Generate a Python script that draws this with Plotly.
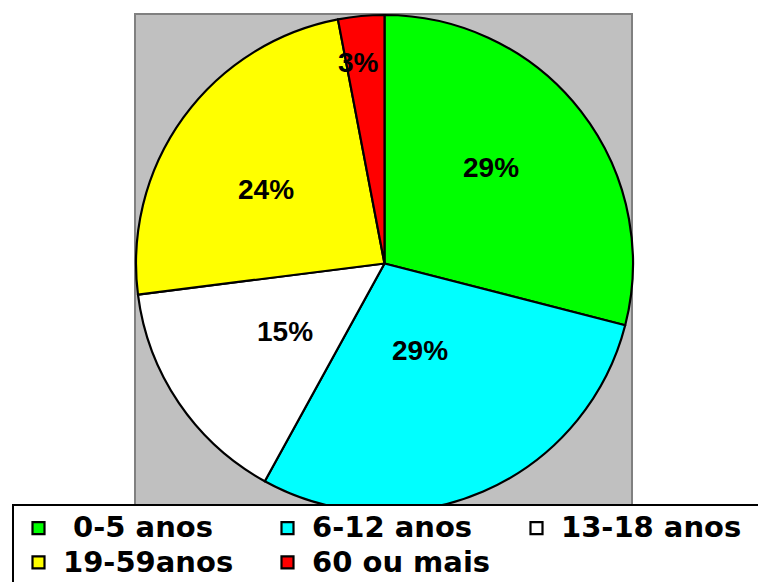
import math
import plotly.graph_objects as go

# ---- data ----
categories = [" 0-5 anos", "6-12 anos", "13-18 anos", "19-59anos", "60 ou mais"]
values = [29, 29, 15, 24, 3]
colors = ["#00FF00", "#00FFFF", "#FFFFFF", "#FFFF00", "#FF0000"]
# placement of each percent label inside its slice
label_radius = [0.577, 0.377, 0.486, 0.564, 0.817]   # fraction of radius
label_angle = [0.457, 0.508, 0.494, 0.453, 0.33]     # fraction of slice sweep

W, H = 758, 582
dom_x = [136 / W, 633 / W]
dom_y = [1 - 512 / H, 1 - 15 / H]

legend_names = [f"<span style='font-size:29px'>{c}</span>" for c in categories]

fig = go.Figure()
fig.add_trace(go.Pie(
    labels=legend_names,
    values=values,
    sort=False,
    direction="clockwise",
    rotation=0,
    marker=dict(colors=colors, line=dict(color="black", width=2.2)),
    textinfo="none",
    customdata=categories,
    hovertemplate="%{customdata}: %{percent}<extra></extra>",
    domain=dict(x=dom_x, y=dom_y),
    showlegend=True,
))

# percent labels computed from the data
total = sum(values)
cx = (dom_x[0] + dom_x[1]) / 2 * W
cy = (1 - (dom_y[0] + dom_y[1]) / 2) * H
R = min((dom_x[1] - dom_x[0]) * W, (dom_y[1] - dom_y[0]) * H) / 2
annotations = []
cum = 0
for v, f, a in zip(values, label_radius, label_angle):
    ang = (cum + a * v) / total * 2 * math.pi
    cum += v
    px = cx + f * R * math.sin(ang)
    py = cy - f * R * math.cos(ang)
    annotations.append(dict(
        x=px / W, y=1 - py / H, xref="paper", yref="paper",
        text=f"{round(v / total * 100)}%", showarrow=False,
        xanchor="center", yanchor="middle",
        font=dict(family="Liberation Sans, Arial", size=28, color="black", weight="bold"),
    ))

fig.update_layout(
    width=W, height=H,
    margin=dict(l=0, r=0, t=0, b=0, autoexpand=False),
    paper_bgcolor="white",
    shapes=[dict(type="rect", xref="paper", yref="paper",
                 x0=135 / W, x1=632 / W, y0=1 - 570 / H, y1=1 - 14 / H,
                 fillcolor="#C0C0C0", line=dict(color="#808080", width=2),
                 layer="below")],
    annotations=annotations,
    legend=dict(
        orientation="h", x=12 / W, xanchor="left", y=1 - 504 / H, yanchor="top",
        bgcolor="white", bordercolor="black", borderwidth=2,
        font=dict(family="DejaVu Sans", size=24, color="black", weight="bold"),
        itemwidth=39,
        entrywidth=195, entrywidthmode="pixels",
        itemclick=False, itemdoubleclick=False,
    ),
)

fig.write_html("out.html", config={"displayModeBar": False},
               post_script="document.body.style.margin='0';")
